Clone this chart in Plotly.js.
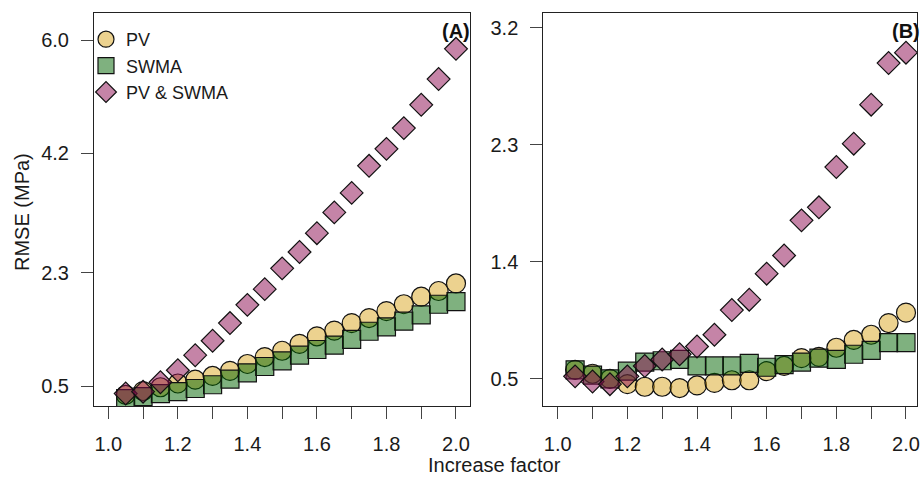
<!DOCTYPE html>
<html>
<head>
<meta charset="utf-8">
<script src="https://cdn.plot.ly/plotly-3.0.1.min.js"></script>
<style>html,body{margin:0;padding:0;background:#fff;}#chart{width:920px;height:479px;}</style>
</head>
<body>
<div id="chart"></div>
<script>
// Increase factor (x values shared by both panels)
const factor = [1.05,1.10,1.15,1.20,1.25,1.30,1.35,1.40,1.45,1.50,1.55,1.60,1.65,1.70,1.75,1.80,1.85,1.90,1.95,2.00];

// Panel (A) RMSE (MPa)
const pvA   = [0.36,0.42,0.48,0.54,0.60,0.66,0.74,0.85,0.96,1.06,1.17,1.29,1.38,1.50,1.58,1.69,1.80,1.92,2.01,2.13];
const swmaA = [0.30,0.33,0.38,0.41,0.46,0.52,0.61,0.71,0.81,0.90,0.99,1.08,1.15,1.24,1.37,1.44,1.53,1.63,1.80,1.84];
const bothA = [0.38,0.41,0.56,0.75,0.99,1.22,1.50,1.79,2.04,2.37,2.63,2.93,3.26,3.57,4.00,4.27,4.60,4.97,5.38,5.86];

// Panel (B) RMSE (MPa)
const pvB   = [0.57,0.54,0.50,0.46,0.44,0.44,0.43,0.45,0.47,0.49,0.49,0.56,0.60,0.66,0.67,0.74,0.80,0.84,0.93,1.01];
const swmaB = [0.57,0.53,0.50,0.56,0.63,0.64,0.65,0.60,0.60,0.60,0.62,0.59,0.61,0.63,0.66,0.65,0.69,0.72,0.78,0.78];
const bothB = [0.52,0.48,0.46,0.52,0.60,0.65,0.69,0.75,0.84,1.03,1.11,1.31,1.45,1.72,1.82,2.13,2.31,2.61,2.93,3.01];

// Series names
const seriesNames = ["PV", "SWMA", "PV & SWMA"];

// Tick definitions
const xTickVals = [1.0,1.1,1.2,1.3,1.4,1.5,1.6,1.7,1.8,1.9,2.0];
const xTickText = ["1.0","","1.2","","1.4","","1.6","","1.8","","2.0"];
const yTickValsA = [0.5,2.3,4.2,6.0];
const yTickTextA = ["0.5","2.3","4.2","6.0"];
const yTickValsB = [0.5,1.4,2.3,3.2];
const yTickTextB = ["0.5","1.4","2.3","3.2"];

const FONT = "Liberation Sans, Arial, Helvetica, sans-serif";
const styles = [
  {symbol: "circle",  size: 19,   color: "rgba(218,165,32,0.5)"},
  {symbol: "square",  size: 18,   color: "rgba(0,100,0,0.5)"},
  {symbol: "diamond", size: 17.5, color: "rgba(139,10,80,0.5)"}
];

function mk(y, i, xa, ya, showLegend) {
  return {
    type: "scatter", mode: "markers",
    x: factor, y: y, xaxis: xa, yaxis: ya,
    name: seriesNames[i], showlegend: showLegend,
    marker: {symbol: styles[i].symbol, size: styles[i].size, color: styles[i].color,
             line: {color: "#111", width: 1.2}},
    hoverinfo: "x+y+name"
  };
}

const data = [
  mk(pvA, 0, "x", "y", true), mk(swmaA, 1, "x", "y", true), mk(bothA, 2, "x", "y", true),
  mk(pvB, 0, "x2", "y2", false), mk(swmaB, 1, "x2", "y2", false), mk(bothB, 2, "x2", "y2", false)
];

const W = 920, H = 479;
const L = 94, R = 3, T = 13, B = 73;
const pw = W - L - R, ph = H - T - B;
const axCommon = {
  showgrid: false, zeroline: false, showline: true, mirror: true,
  linecolor: "#222", linewidth: 1, ticks: "outside", ticklen: 12, tickwidth: 1,
  tickcolor: "#444", tickfont: {family: FONT, size: 20, color: "#1a1a1a"}, fixedrange: true
};

const layout = {
  width: W, height: H,
  margin: {l: L, r: R, t: T, b: B, pad: 0},
  paper_bgcolor: "#fff", plot_bgcolor: "#fff",
  font: {family: FONT, size: 20, color: "#1a1a1a"},
  xaxis: Object.assign({}, axCommon, {domain: [0, 376/pw], range: [0.9589, 2.0403],
    tickmode: "array", tickvals: xTickVals, ticktext: xTickText, ticklabelstandoff: 8, anchor: "y"}),
  yaxis: Object.assign({}, axCommon, {domain: [0, 1], range: [0.182, 6.43],
    tickmode: "array", tickvals: yTickValsA, ticktext: yTickTextA, ticklabelstandoff: 8, anchor: "x"}),
  xaxis2: Object.assign({}, axCommon, {domain: [(543.3 - L)/pw, 1], range: [0.9587, 2.0316],
    tickmode: "array", tickvals: xTickVals, ticktext: xTickText, ticklabelstandoff: 8, anchor: "y2"}),
  yaxis2: Object.assign({}, axCommon, {domain: [0, 1], range: [0.292, 3.315],
    tickmode: "array", tickvals: yTickValsB, ticktext: yTickTextB, ticklabelstandoff: 8, anchor: "x2"}),
  showlegend: true,
  legend: {
    x: (86 - L)/pw, xanchor: "left", y: 1 - (21 - T)/ph, yanchor: "top",
    bgcolor: "rgba(0,0,0,0)", borderwidth: 0,
    font: {family: FONT, size: 18, color: "#1a1a1a"},
    itemsizing: "trace", tracegroupgap: 0
  },
  annotations: [
    {text: "<b>(A)</b>", xref: "paper", yref: "paper", x: 376/pw, y: 1 - (31 - T)/ph,
     xanchor: "right", yanchor: "middle", showarrow: false, xshift: 2,
     font: {family: FONT, size: 20, color: "#111"}},
    {text: "<b>(B)</b>", xref: "paper", yref: "paper", x: 1, y: 1 - (31 - T)/ph,
     xanchor: "right", yanchor: "middle", showarrow: false, xshift: 5,
     font: {family: FONT, size: 20, color: "#111"}},
    {text: "Increase factor", xref: "paper", yref: "paper", x: (494.7 - L)/pw, y: -(H - 1 - (H - B))/ph,
     xanchor: "center", yanchor: "bottom", showarrow: false,
     font: {family: FONT, size: 20, color: "#1a1a1a"}},
    {text: "RMSE (MPa)", xref: "paper", yref: "paper", x: -(L - 22)/pw, y: 1 - (212 - T)/ph,
     xanchor: "center", yanchor: "middle", showarrow: false, textangle: -90,
     font: {family: FONT, size: 20, color: "#1a1a1a"}}
  ]
};

Plotly.newPlot("chart", data, layout, {displayModeBar: false, staticPlot: true});
</script>
</body>
</html>
